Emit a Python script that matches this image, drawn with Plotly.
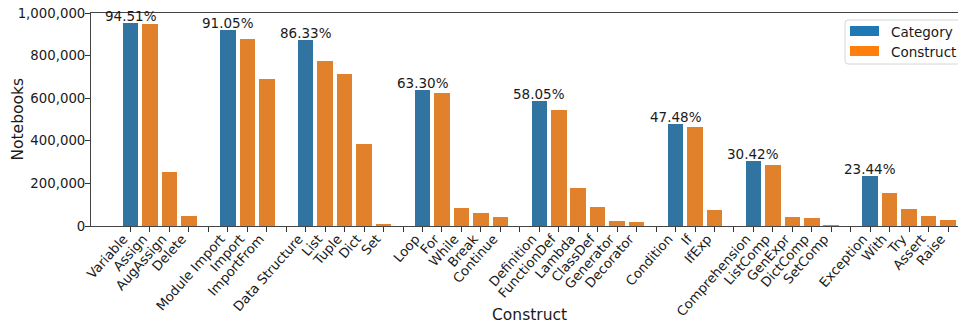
import plotly.graph_objects as go

# Construct categories, share of notebooks using each category (%), and the
# number of notebooks using each individual construct.
categories = ["Variable", "Module Import", "Data Structure", "Loop",
              "Definition", "Condition", "Comprehension", "Exception"]
category_pct = [94.51, 91.05, 86.33, 63.30, 58.05, 47.48, 30.42, 23.44]
total_notebooks = 1_010_000

constructs = [
    ["Assign", "AugAssign", "Delete"],
    ["Import", "ImportFrom"],
    ["List", "Tuple", "Dict", "Set"],
    ["For", "While", "Break", "Continue"],
    ["FunctionDef", "Lambda", "ClassDef", "Generator", "Decorator"],
    ["If", "IfExp"],
    ["ListComp", "GenExpr", "DictComp", "SetComp"],
    ["With", "Try", "Assert", "Raise"],
]
construct_counts = [
    [950_000, 253_000, 45_700],
    [879_000, 690_000],
    [775_000, 714_000, 385_000, 8_000],
    [625_000, 83_000, 60_000, 41_000],
    [545_000, 177_500, 88_000, 22_000, 17_500],
    [465_000, 74_000],
    [286_000, 41_000, 36_000, 2_000],
    [154_000, 78_600, 45_700, 26_800],
]

CAT_COLOR = "#3274a1"
CON_COLOR = "#e1812c"
TEXT = "#1a1a1a"
FONT = "DejaVu Sans"

# Lay the groups out along one axis, with an empty slot between groups.
cat_x, cat_y, con_x, con_y = [], [], [], []
tick_vals, tick_text = [], []
pos = 0
for gi, (cat, pct) in enumerate(zip(categories, category_pct)):
    cat_x.append(pos)
    cat_y.append(pct / 100 * total_notebooks)
    tick_vals.append(pos)
    tick_text.append(cat)
    pos += 1
    for name, cnt in zip(constructs[gi], construct_counts[gi]):
        con_x.append(pos)
        con_y.append(cnt)
        tick_vals.append(pos)
        tick_text.append(name)
        pos += 1
    if gi < len(categories) - 1:
        tick_vals.append(pos)
        tick_text.append("")
        pos += 1

fig = go.Figure()
fig.add_trace(go.Bar(x=cat_x, y=cat_y, width=0.8, marker_color=CAT_COLOR,
                     marker_line_width=0, name="Category"))
fig.add_trace(go.Bar(x=con_x, y=con_y, width=0.8, marker_color=CON_COLOR,
                     marker_line_width=0, name="Construct"))

annotations = []
for x, y, pct in zip(cat_x, cat_y, category_pct):
    annotations.append(dict(x=x, y=y, xref="x", yref="y", text=f"{pct:.2f}%",
                            showarrow=False, yanchor="bottom", yshift=-3,
                            font=dict(family=FONT, size=13.5, color=TEXT)))

# Axis titles
annotations.append(dict(x=-0.0853, y=0.5, xref="paper", yref="paper",
                        text="Notebooks", textangle=-90, showarrow=False,
                        xanchor="center", yanchor="middle",
                        font=dict(family=FONT, size=15.5, color=TEXT)))
annotations.append(dict(x=0.5063, y=-0.42, xref="paper", yref="paper",
                        text="Construct", showarrow=False,
                        xanchor="center", yanchor="middle",
                        font=dict(family=FONT, size=15.5, color=TEXT)))

# Legend drawn as a framed box with colour patches
PW, PH = 867.0, 213.0
def px(v):
    return (v - 91) / PW
def py(v):
    return (226 - v) / PH

shapes = []
x0, x1, y0, y1, r = 845, 968, 20, 64, 3
rx, ry = r / PW, r / PH
path = (f"M {px(x0)+rx},{py(y0)} L {px(x1)-rx},{py(y0)} "
        f"Q {px(x1)},{py(y0)} {px(x1)},{py(y0)-ry} L {px(x1)},{py(y1)+ry} "
        f"Q {px(x1)},{py(y1)} {px(x1)-rx},{py(y1)} L {px(x0)+rx},{py(y1)} "
        f"Q {px(x0)},{py(y1)} {px(x0)},{py(y1)+ry} L {px(x0)},{py(y0)-ry} "
        f"Q {px(x0)},{py(y0)} {px(x0)+rx},{py(y0)} Z")
shapes.append(dict(type="path", xref="paper", yref="paper", path=path,
                   fillcolor="rgba(255,255,255,0.8)",
                   line=dict(color="#d6d6d6", width=1), layer="above"))
for (ya, yb), color, label, yc in [((26, 36), "#1f77b4", "Category", 31.7),
                                   ((46, 56), "#ff7f0e", "Construct", 51.7)]:
    shapes.append(dict(type="rect", xref="paper", yref="paper",
                       x0=px(850), x1=px(879), y0=py(yb), y1=py(ya),
                       fillcolor=color, line=dict(width=0), layer="above"))
    annotations.append(dict(x=px(889), y=py(yc), xref="paper", yref="paper",
                            text=label, showarrow=False, xanchor="left",
                            yanchor="middle",
                            font=dict(family=FONT, size=13.5, color=TEXT)))

fig.update_layout(
    width=958, height=326,
    margin=dict(l=91, r=0, t=13, b=100),
    plot_bgcolor="white", paper_bgcolor="white",
    showlegend=False, bargap=0,
    font=dict(family=FONT, size=13.3, color=TEXT),
    annotations=annotations, shapes=shapes,
    xaxis=dict(range=[-2.03, 42.51], tickmode="array", tickvals=tick_vals,
               ticktext=tick_text, tickangle=-48.5, ticks="outside", ticklen=5,
               tickwidth=1, tickcolor="#333", showline=True, linecolor="#444",
               linewidth=1, mirror=True, showgrid=False, zeroline=False,
               automargin=False, tickfont=dict(size=13.2),
               ticklabelshift=-7, ticklabelstandoff=-6),
    yaxis=dict(range=[0, 1_000_000], tickvals=[0, 200_000, 400_000, 600_000,
                                              800_000, 1_000_000],
               tickformat=",d", ticks="outside", ticklen=5, tickwidth=1,
               tickcolor="#333", showline=True, linecolor="#444", linewidth=1,
               showgrid=False, zeroline=False, automargin=False,
               tickfont=dict(size=13.3), ticklabelstandoff=-3),
)

fig.write_html("out.html")
